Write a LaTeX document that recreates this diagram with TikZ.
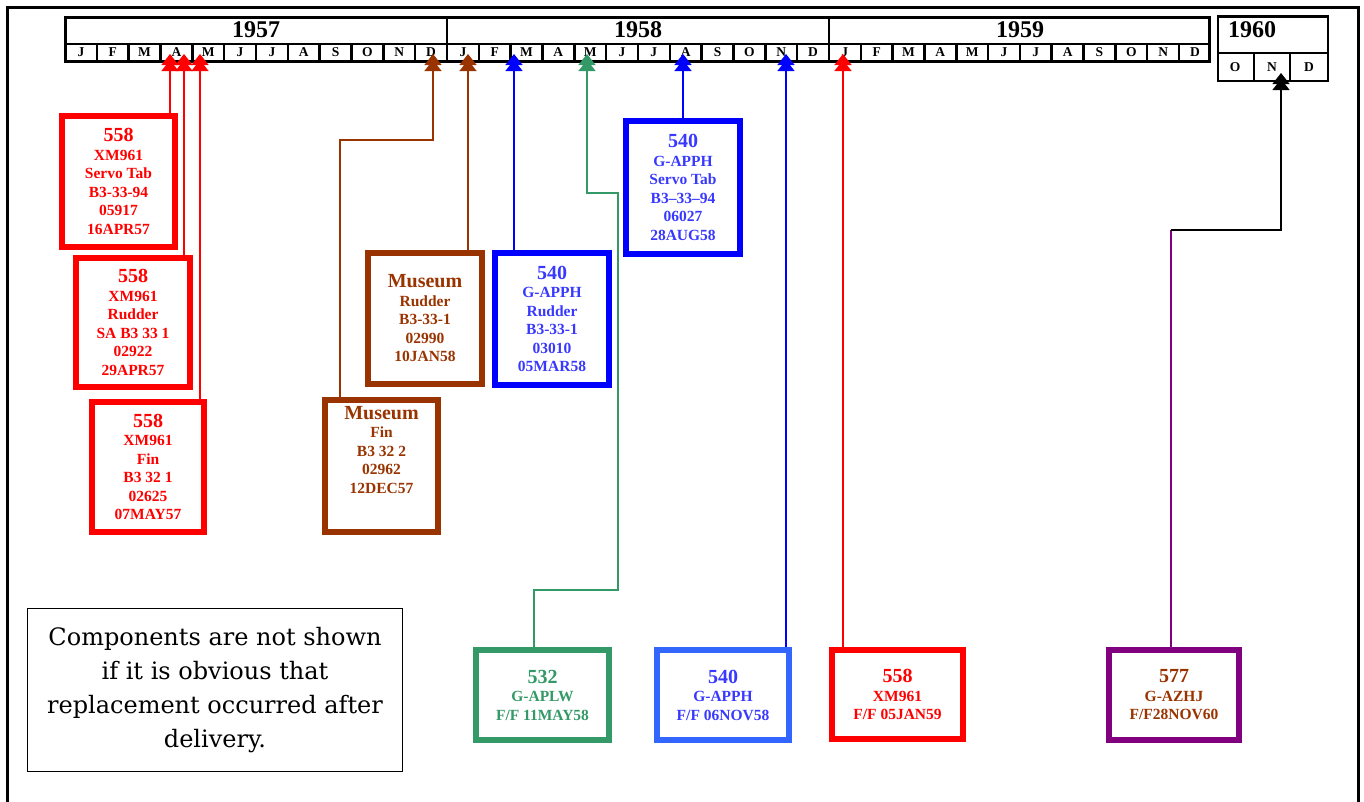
\documentclass[tikz,border=0pt]{standalone}
\usepackage{fontspec}
\setmainfont{Liberation Serif}
\newfontfamily\notefont{DejaVu Serif}
\usetikzlibrary{arrows.meta}
\definecolor{cred}{HTML}{FF0000}
\definecolor{cbrown}{HTML}{993300}
\definecolor{cblue}{HTML}{0000FF}
\definecolor{cbluetext}{HTML}{3838FF}
\definecolor{cblueb}{HTML}{3366FF}
\definecolor{cgreen}{HTML}{339966}
\definecolor{cpurple}{HTML}{800080}
\tikzset{
  cbox/.style={draw, rectangle, line width=6pt, inner sep=0pt, align=center,
    font=\fontsize{15.5}{18.5}\selectfont\bfseries},
  conn/.style={line width=1.4pt},
  arr/.style={conn, -{Triangle[width=17pt,length=11pt,sep=-5pt]Triangle[width=17pt,length=11pt,sep=-5pt]}},
  yearlab/.style={font=\fontsize{24}{26}\selectfont\bfseries, inner sep=0pt},
  monlab/.style={font=\fontsize{13.5}{14}\selectfont\bfseries, inner sep=0pt},
}
\newcommand{\bnum}[1]{{\fontsize{20}{20}\selectfont\bfseries #1}}
\begin{document}
\begin{tikzpicture}[x=1pt,y=-1pt]
\useasboundingbox (0,0) rectangle (1364,801);
\clip (0,0) rectangle (1364,801);
% outer frame
\draw[line width=3pt] (7,810) -- (7,7.5) -- (1358,7.5) -- (1358,810);

% main timeline
\draw[line width=3pt] (65,17) rectangle (1209.5,61.5);
\draw[line width=2pt] (65,44) -- (1209.5,44);
\draw[line width=2.5pt] (447,17) -- (447,61.5);
\draw[line width=2.5pt] (829,17) -- (829,61.5);
\foreach \i in {1,...,35} {
  \draw[line width=2.5pt] ({65+\i*31.83},44) -- ({65+\i*31.83},61.5);
}
\node[yearlab] (y1957) at (256,30) {1957};
\node[yearlab] (y1958) at (638,30) {1958};
\node[yearlab] (y1959) at (1020,30) {1959};
\foreach \y/\o in {57/0,58/12,59/24} {
  \foreach \m [count=\k from 0] in {J,F,M,A,M,J,J,A,S,O,N,D} {
    \node[monlab] (m\y-\k) at ({65+(\o+\k+0.5)*31.83},52.5) {\m};
  }
}
% 1960 box
\draw[line width=2.5pt] (1218,16.5) rectangle (1328,81);
\draw[line width=2pt] (1218,53) -- (1328,53);
\draw[line width=2pt] (1254,53) -- (1254,81);
\draw[line width=2pt] (1290,53) -- (1290,81);
\node[yearlab] (y1960) at (1252,30) {1960};
\node[monlab] (m60-9) at (1235,67) {O};
\node[monlab] (m60-10) at (1272,67) {N};
\node[monlab] (m60-11) at (1309,67) {D};

% arrow end points on the timeline
\coordinate (tA1) at (170,59);
\coordinate (tA2) at (184,59);
\coordinate (tA3) at (200,59);
\coordinate (tD57) at (433,59);
\coordinate (tJ58) at (468,59);
\coordinate (tM58) at (514,59);
\coordinate (tMay58) at (587,59);
\coordinate (tA58) at (683,59);
\coordinate (tN58) at (786,59);
\coordinate (tJ59) at (843,59);
\coordinate (tN60) at (1281,78);

% boxes
\node[cbox, draw=cred, text=cred, minimum width=113, minimum height=131] (r1) at (118.5,181.5)
  {\bnum{558}\\XM961\\Servo Tab\\B3-33-94\\05917\\16APR57};
\node[cbox, draw=cred, text=cred, minimum width=114, minimum height=129] (r2) at (133,322.5)
  {\bnum{558}\\XM961\\Rudder\\SA B3 33 1\\02922\\29APR57};
\node[cbox, draw=cred, text=cred, minimum width=112, minimum height=130] (r3) at (148,467)
  {\bnum{558}\\XM961\\Fin\\B3 32 1\\02625\\07MAY57};
\node[cbox, draw=cbrown, text=cbrown, minimum width=113, minimum height=132] (b1) at (381.5,466)
  {\bnum{Museum}\\Fin\\B3 32 2\\02962\\12DEC57\\[14pt]~};
\node[cbox, draw=cbrown, text=cbrown, minimum width=114, minimum height=131] (b2) at (425,318.5)
  {\bnum{Museum}\\Rudder\\B3-33-1\\02990\\10JAN58};
\node[cbox, draw=cblue, text=cbluetext, minimum width=114, minimum height=132] (u1) at (552,319)
  {\bnum{540}\\G-APPH\\Rudder\\B3-33-1\\03010\\05MAR58};
\node[cbox, draw=cblue, text=cbluetext, minimum width=114, minimum height=133] (u2) at (683,187.5)
  {\bnum{540}\\G-APPH\\Servo Tab\\B3--33--94\\06027\\28AUG58};
\node[cbox, draw=cgreen, text=cgreen, minimum width=133, minimum height=90] (g1) at (542.5,695)
  {\bnum{532}\\G-APLW\\F/F 11MAY58};
\node[cbox, draw=cblueb, text=cbluetext, minimum width=132, minimum height=90] (u3) at (723,695)
  {\bnum{540}\\G-APPH\\F/F 06NOV58};
\node[cbox, draw=cred, text=cred, minimum width=131, minimum height=89] (r4) at (897.5,694.5)
  {\bnum{558}\\XM961\\F/F 05JAN59};
\node[cbox, draw=cpurple, text=cbrown, minimum width=130, minimum height=90] (p1) at (1174,695)
  {\bnum{577}\\G-AZHJ\\F/F28NOV60};

% note
\node[draw, line width=1.2pt, minimum width=375, minimum height=163, align=center,
  font=\notefont\fontsize{24}{34}\selectfont] (note) at (215,690)
  {Components are not shown\\if it is obvious that\\replacement occurred after\\delivery.};

% connectors
\draw[arr, cred] (r1.north -| tA1) -- (tA1);
\draw[arr, cred] (r2.north -| tA2) -- (tA2);
\draw[arr, cred] (r3.north -| tA3) -- (tA3);
\coordinate (kb1) at (340,140);
\draw[arr, cbrown] (b1.north -| kb1) -- (kb1) -| (tD57);
\draw[arr, cbrown] (b2.north -| tJ58) -- (tJ58);
\draw[arr, cblue] (u1.north -| tM58) -- (tM58);
\draw[arr, cblue] (u2.north -| tA58) -- (tA58);
\coordinate (kg1) at (534,590);
\coordinate (kg2) at (618,193);
\draw[arr, cgreen] (g1.north -| kg1) -- (kg1) -| (kg2) -| (tMay58);
\draw[arr, cblue] (u3.north -| tN58) -- (tN58);
\draw[arr, cred] (r4.north -| tJ59) -- (tJ59);
\coordinate (kp1) at (1171,230);
\draw[conn, cpurple] (p1.north -| kp1) -- (kp1);
\draw[arr, black] (kp1) -| (tN60);
\end{tikzpicture}
\end{document}
